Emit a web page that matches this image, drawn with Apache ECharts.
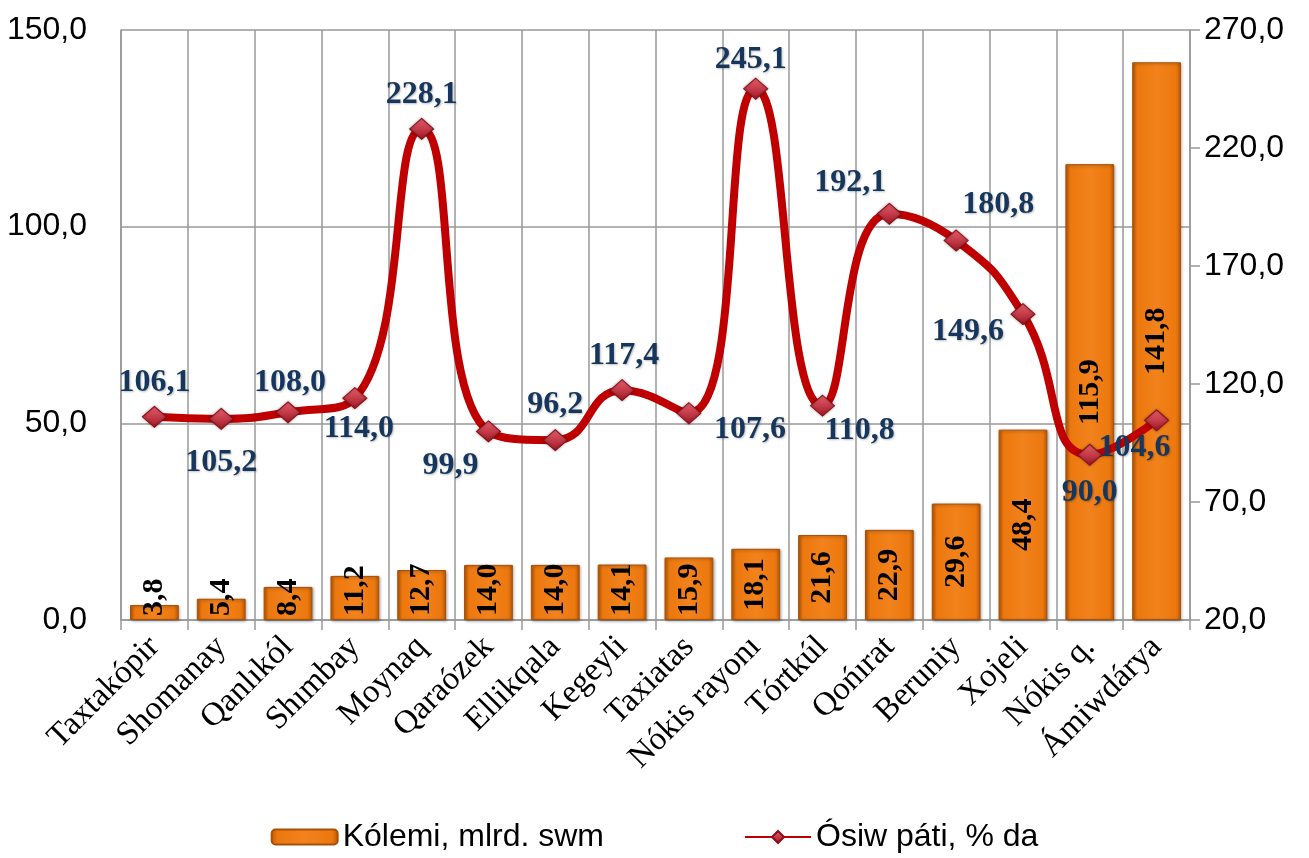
<!DOCTYPE html>
<html>
<head>
<meta charset="utf-8">
<script src="https://cdn.jsdelivr.net/npm/echarts@6/dist/echarts.min.js"></script>
<style>
  html, body { margin: 0; padding: 0; background: #fff; }
  #chart { width: 1309px; height: 858px; }
</style>
</head>
<body>
<div id="chart"></div>
<script>
const categories = ["Taxtakópir", "Shomanay", "Qanlıkól", "Shımbay", "Moynaq", "Qaraózek", "Ellikqala", "Kegeyli",
  "Taxiatas", "Nókis rayonı", "Tórtkúl", "Qońırat", "Beruniy", "Xojeli", "Nókis q.", "Ámiwdárya"];
const volume = [3.8, 5.4, 8.4, 11.2, 12.7, 14.0, 14.0, 14.1, 15.9, 18.1, 21.6, 22.9, 29.6, 48.4, 115.9, 141.8];
const growth = [106.1, 105.2, 108.0, 114.0, 228.1, 99.9, 96.2, 117.4, 107.6, 245.1, 110.8, 192.1, 180.8, 149.6, 90.0, 104.6];
const leftTicks = [0, 50, 100, 150];
const rightTicks = [20, 70, 120, 170, 220, 270];

// label placement for the line (offset from point, px)
const growthLabelOffset = [[0, -34], [0, 44], [2, -30], [4, 31], [0, -34], [-38, 34], [0, -35], [2, -34],
  [61, 16], [-5, -29], [37, 25], [-39, -31], [42, -36], [-55, 18], [0, 38], [-22, 27]];

const fmt = v => v.toFixed(1).replace(".", ",");
const gridColor = "#999999";

let myChart = echarts.init(document.getElementById("chart"));

const barColor = new echarts.graphic.LinearGradient(0, 0, 1, 0, [
  { offset: 0, color: "#B85A08" },
  { offset: 0.1, color: "#EC780E" },
  { offset: 0.5, color: "#F2821C" },
  { offset: 0.9, color: "#EC780E" },
  { offset: 1, color: "#B85A08" }
]);

let barData = volume.map(v => {
  let small = v < 18;
  return {
    value: v,
    label: small
      ? { position: "insideBottom", align: "left", verticalAlign: "middle", distance: 4 }
      : { position: "inside", align: "center", verticalAlign: "middle" }
  };
});

let lineData = growth.map((v, i) => ({
  value: v,
  label: { offset: growthLabelOffset[i] }
}));

let option = {
  animation: false,
  grid: {
    left: 121,
    right: 119,
    top: 30,
    bottom: 238
  },
  legend: {
    bottom: 0,
    left: "center",
    itemGap: 140,
    itemWidth: 66,
    itemHeight: 15,
    textStyle: {
      fontFamily: "Liberation Sans",
      fontSize: 32,
      color: "#000"
    },
    data: ["Kólemi, mlrd. swm", "Ósiw páti, % da"]
  },
  xAxis: {
    type: "category",
    data: categories,
    axisLine: { lineStyle: { color: gridColor, width: 1.5 } },
    axisTick: { show: true, length: 10, lineStyle: { color: gridColor, width: 1.5 } },
    splitLine: { show: true, lineStyle: { color: gridColor, width: 1.5 } },
    axisLabel: {
      rotate: 45,
      interval: 0,
      margin: 22,
      fontFamily: "Liberation Serif",
      fontSize: 33,
      color: "#000"
    }
  },
  yAxis: [
    {
      type: "value",
      min: 0,
      max: 150,
      interval: 50,
      axisLine: { show: true, lineStyle: { color: gridColor, width: 1.5 } },
      axisTick: { show: false },
      splitLine: { show: true, lineStyle: { color: gridColor, width: 1.5 } },
      axisLabel: {
        formatter: fmt,
        fontFamily: "Liberation Sans",
        fontSize: 32,
        color: "#000",
        margin: 34,
        customValues: leftTicks
      }
    },
    {
      type: "value",
      min: 20,
      max: 270,
      axisLine: { show: true, lineStyle: { color: gridColor, width: 1.5 } },
      axisTick: { show: true, length: 10, lineStyle: { color: gridColor, width: 1.5 }, customValues: rightTicks },
      splitLine: { show: false },
      axisLabel: {
        formatter: fmt,
        fontFamily: "Liberation Sans",
        fontSize: 32,
        color: "#000",
        margin: 14,
        customValues: rightTicks
      }
    }
  ],
  series: [
    {
      name: "Kólemi, mlrd. swm",
      type: "bar",
      yAxisIndex: 0,
      barWidth: "73%",
      data: barData,
      itemStyle: {
        color: barColor,
        borderColor: "#A85008",
        borderWidth: 1,
        shadowColor: "rgba(0,0,0,0.35)",
        shadowBlur: 3,
        shadowOffsetX: 1,
        shadowOffsetY: 1
      },
      label: {
        show: true,
        rotate: 90,
        formatter: p => fmt(p.value),
        fontFamily: "Liberation Serif",
        fontWeight: "bold",
        fontSize: 30,
        color: "#000"
      }
    },
    {
      name: "Ósiw páti, % da",
      type: "line",
      yAxisIndex: 1,
      smooth: 0.5,
      data: lineData,
      symbol: "diamond",
      symbolSize: [24, 21],
      lineStyle: { color: "#C00000", width: 8 },
      itemStyle: {
        color: new echarts.graphic.LinearGradient(0, 0, 0, 1, [
          { offset: 0, color: "#E8606E" },
          { offset: 1, color: "#A01624" }
        ]),
        borderColor: "#8A0E18",
        borderWidth: 1,
        shadowColor: "rgba(0,0,0,0.35)",
        shadowBlur: 3
      },
      label: {
        show: true,
        position: "inside",
        formatter: p => fmt(p.value),
        fontFamily: "Liberation Serif",
        fontWeight: "bold",
        fontSize: 32,
        color: "#17365D",
        textShadowColor: "rgba(0,0,0,0.25)",
        textShadowBlur: 2,
        textShadowOffsetX: 1,
        textShadowOffsetY: 1
      },
      z: 5
    }
  ]
};
myChart.setOption(option);
</script>
</body>
</html>
